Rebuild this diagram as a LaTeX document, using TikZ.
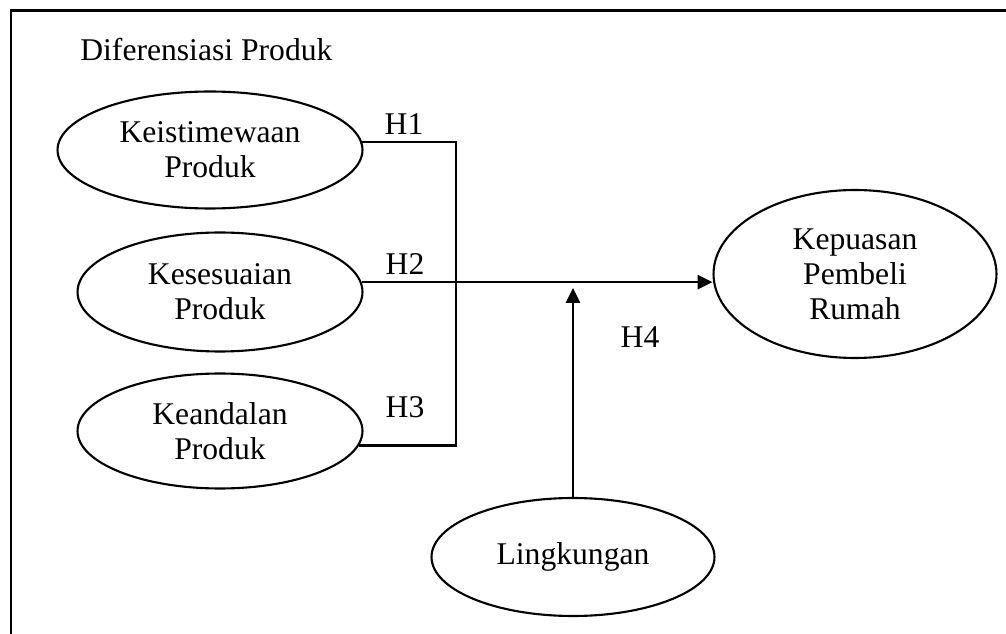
\documentclass[tikz,border=0pt]{standalone}
\usepackage{fontspec}
\setmainfont{Liberation Serif}
\usetikzlibrary{shapes.geometric, arrows.meta}

\begin{document}
\begin{tikzpicture}[
  x=0.02cm, y=-0.02cm,
  >={Triangle[length=8.5pt, width=8pt]},
  every node/.style={font=\fontsize{18}{20}\selectfont},
  align=center,
]

\tikzset{
  construct/.style={ellipse, draw, line width=1.2pt, inner sep=0pt,
    minimum width=5.7cm, minimum height=2.36cm},
  connector/.style={line width=1.4pt},
  hyplabel/.style={inner sep=1pt},
}

\useasboundingbox (0,0) rectangle (1006,634);
\clip (0,0) rectangle (1006,634);
\draw[line width=1.7pt] (11,11) rectangle (1040,670);

% ---- exogenous constructs ----
\node[anchor=base west, inner sep=0pt] (title) at (80,61) {Diferensiasi Produk};
\node[construct, minimum width=6.1cm, minimum height=2.34cm] (keistimewaan) at (210,150) {Keistimewaan\\Produk};
\node[construct, minimum height=2.38cm] (kesesuaian) at (220,292) {Kesesuaian\\Produk};
\node[construct, minimum height=2.3cm] (keandalan) at (220,431) {Keandalan\\Produk};

% ---- endogenous + moderator ----
\node[construct, minimum width=5.66cm, minimum height=3.36cm] (kepuasan) at (855,274) {Kepuasan\\Pembeli\\Rumah};
\node[construct, minimum width=5.66cm] (lingkungan) at (573,557) {Lingkungan};

\coordinate (joint) at (456,282);
\coordinate (moderate) at (573,288);

\draw[connector] (keistimewaan.3) -| (joint) |- (keandalan.-6);
\draw[connector, ->] (kesesuaian.4) -- (kesesuaian.4 -| kepuasan.west);
\draw[connector, ->] (lingkungan.north) -- (moderate);

\node[hyplabel] (h1) at (404,124) {H1};
\node[hyplabel] (h2) at (405,264) {H2};
\node[hyplabel] (h3) at (405,407) {H3};
\node[hyplabel] (h4) at (640,337) {H4};

\end{tikzpicture}
\end{document}
